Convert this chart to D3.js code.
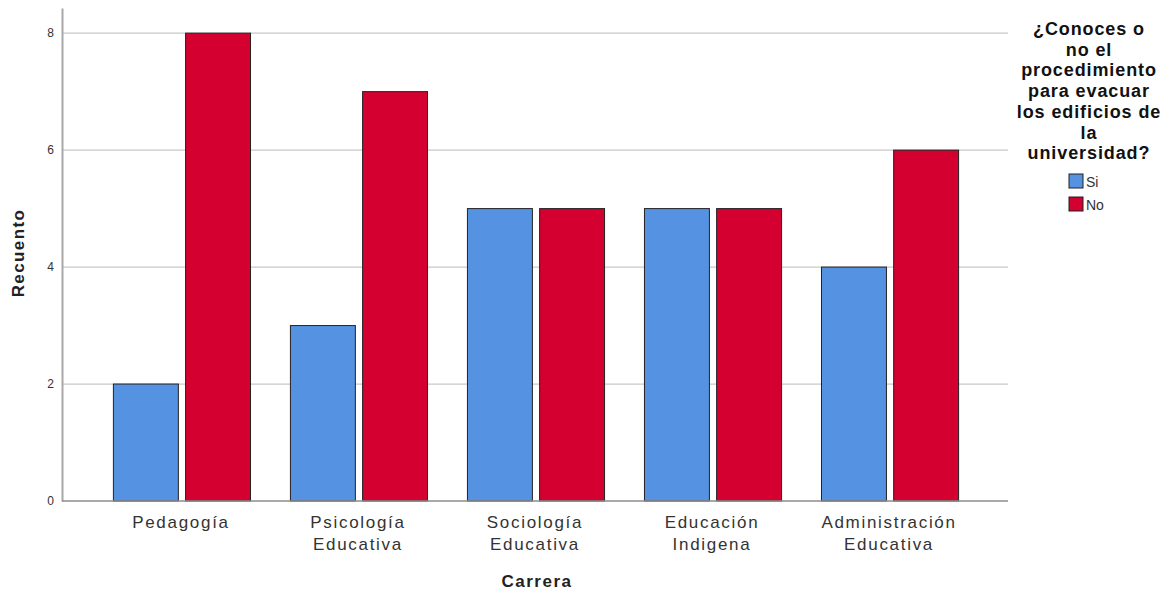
<!DOCTYPE html>
<html><head><meta charset="utf-8">
<script src="https://cdn.jsdelivr.net/npm/d3@7"></script>
<style>body{margin:0;background:#fff}svg{display:block}</style>
</head><body>
<svg id="c" width="1171" height="592"></svg>
<script>
const categories = [["Pedagogía"],["Psicología","Educativa"],["Sociología","Educativa"],["Educación","Indigena"],["Administración","Educativa"]];
const seriesNames = ["Si","No"];
const siValues = [2,3,5,5,4];
const noValues = [8,7,5,5,6];
const yTicks = [0,2,4,6,8];
const colors = ["#5592E2","#D40030"];
const legendTitle = ["¿Conoces o","no el","procedimiento","para evacuar","los edificios de","la","universidad?"];

(function(){
const svg = d3.select("#c");
const FF = "Arial, Liberation Sans, sans-serif";
const mL = 62, mR = 1008, mT = 8, mB = 501;
const y = d3.scaleLinear().domain([0, 8.43]).range([mB, mT]);
const x = d3.scalePoint().domain(d3.range(categories.length)).range([mL, mR]).padding(0.672);
const sub = d3.scaleBand().domain(seriesNames).range([-69, 71]).paddingInner(0.1).paddingOuter(0.02);

svg.append("g").selectAll("line").data(yTicks.filter(d=>d>0)).join("line")
  .attr("x1", mL).attr("x2", mR).attr("y1", d=>y(d)).attr("y2", d=>y(d))
  .attr("stroke", "#c8c8c8").attr("stroke-width", 1.2);

const data = categories.map((c,i)=>({i, vals:[siValues[i], noValues[i]]}));
const g = svg.append("g");
data.forEach(d=>{
  d.vals.forEach((v,k)=>{
    g.append("rect")
      .attr("x", x(d.i) + sub(seriesNames[k]))
      .attr("y", y(v))
      .attr("width", sub.bandwidth())
      .attr("height", y(0)-y(v))
      .attr("fill", colors[k]).attr("stroke", "#222").attr("stroke-width", 1);
  });
});

const yAxis = d3.axisLeft(y).tickValues(yTicks).tickSize(0).tickPadding(8);
const ya = svg.append("g").attr("transform", `translate(${mL},0)`).call(yAxis);
ya.select(".domain").attr("stroke", "#a8a8a8").attr("stroke-width", 2);
ya.selectAll("text").attr("font-family",FF).attr("font-size", 12).attr("fill","#333");

svg.append("line").attr("x1", mL).attr("x2", mR).attr("y1", mB).attr("y2", mB)
  .attr("stroke", "#8c8c8c").attr("stroke-width", 1.5);

const xl = svg.append("g");
categories.forEach((c,i)=>{
  const t = xl.append("text").attr("x", x(i)).attr("y", 528).attr("text-anchor","middle")
    .attr("font-family",FF).attr("font-size", 17).attr("letter-spacing", 1.7).attr("fill","#333");
  c.forEach((line,j)=> t.append("tspan").attr("x", x(i)).attr("dy", j===0?0:21.5).text(line));
});

svg.append("text").attr("x", 537).attr("y", 587).attr("text-anchor","middle")
  .attr("font-family",FF).attr("font-weight","bold").attr("font-size", 17).attr("letter-spacing", 1.5).attr("fill","#222").text("Carrera");
svg.append("text").attr("transform","translate(24,253) rotate(-90)").attr("text-anchor","middle")
  .attr("font-family",FF).attr("font-weight","bold").attr("font-size", 17).attr("letter-spacing", 1.4).attr("fill","#222").text("Recuento");

const lt = svg.append("text").attr("text-anchor","middle")
  .attr("font-family",FF).attr("font-weight","bold").attr("font-size", 18).attr("letter-spacing", 0.9).attr("fill","#111");
legendTitle.forEach((line,j)=> lt.append("tspan").attr("x", 1089).attr("y", 35 + j*20.7).text(line));

seriesNames.forEach((s,k)=>{
  svg.append("rect").attr("x", 1069).attr("y", 174 + k*23).attr("width", 14).attr("height", 14)
    .attr("fill", colors[k]).attr("stroke","#222").attr("stroke-width",1);
  svg.append("text").attr("x", 1086).attr("y", 187 + k*23)
    .attr("font-family",FF).attr("font-size", 14).attr("fill","#333").text(s);
});
})();
</script>
</body></html>
